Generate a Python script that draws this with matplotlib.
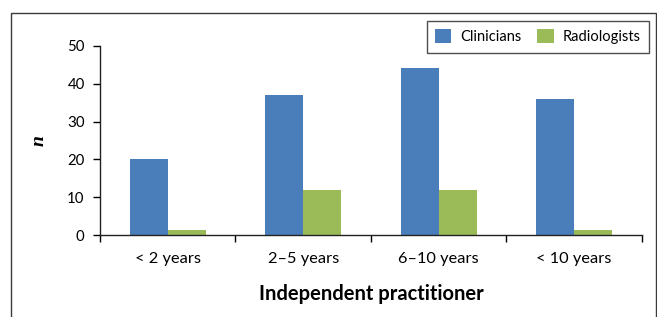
import matplotlib.pyplot as plt
from matplotlib.patches import Rectangle, Patch
import numpy as np

categories = ["< 2 years", "2\u20135 years", "6\u201310 years", "< 10 years"]
clinicians = [20, 37, 44, 36]
radiologists = [1.4, 12, 12, 1.4]
series_labels = ["Clinicians", "Radiologists"]

BLUE = "#4A7EBB"
GREEN = "#9BBB59"
BAR_W = 0.28

plt.rcParams["font.family"] = ["Lato", "DejaVu Sans"]

fig = plt.figure(figsize=(6.57, 3.17), dpi=100)
ax = fig.add_axes([0.1522, 0.2577, 0.977 - 0.1522, 0.856 - 0.2577])

# outer frame of the figure, runs off the bottom edge
fig.patches.append(
    Rectangle((11 / 657, -0.1), (656 - 11) / 657, 1.1 - 13.5 / 317,
              transform=fig.transFigure, fill=False,
              edgecolor="#3a3a3a", linewidth=1.0)
)

x = np.arange(len(categories))
ax.bar(x - BAR_W / 2, clinicians, BAR_W, color=BLUE, label=series_labels[0])
ax.bar(x + BAR_W / 2, radiologists, BAR_W, color=GREEN, label=series_labels[1])

ax.set_xlim(-0.5, len(categories) - 0.5)
ax.set_ylim(0, 50)
ax.set_yticks([0, 10, 20, 30, 40, 50])

ax.set_xticks(x)
ax.set_xticklabels(categories, fontsize=11.8)
ax.tick_params(axis="x", which="major", length=0, pad=12)
ax.set_xticks(np.arange(-0.5, len(categories), 1.0), minor=True)
ax.tick_params(axis="x", which="minor", length=5, width=1, direction="out")
ax.tick_params(axis="y", length=5, width=1, direction="out", labelsize=10.8, pad=6)

for s in ["top", "right"]:
    ax.spines[s].set_visible(False)
for s in ["left", "bottom"]:
    ax.spines[s].set_linewidth(1)
    ax.spines[s].set_color("#222222")
ax.spines["left"].set_bounds(0, 50)

ax.set_xlabel("Independent practitioner", fontsize=14.5, fontweight="bold", labelpad=13)
ax.set_ylabel("n", fontsize=14, fontweight="bold", fontstyle="italic",
              family="Liberation Serif", labelpad=14)

handles = [Patch(facecolor=BLUE), Patch(facecolor=GREEN)]
leg = ax.legend(handles, series_labels, loc="upper right", ncol=2,
                bbox_to_anchor=(649 / 657, 1 - 20.5 / 317),
                bbox_transform=fig.transFigure,
                fontsize=10.5, frameon=True, fancybox=False,
                handlelength=1.1, handleheight=1.1, handletextpad=0.6,
                columnspacing=1.1, borderpad=0.6, borderaxespad=0)
leg.get_frame().set_edgecolor("#222222")
leg.get_frame().set_linewidth(1)

fig.savefig("out.png", dpi=100)
